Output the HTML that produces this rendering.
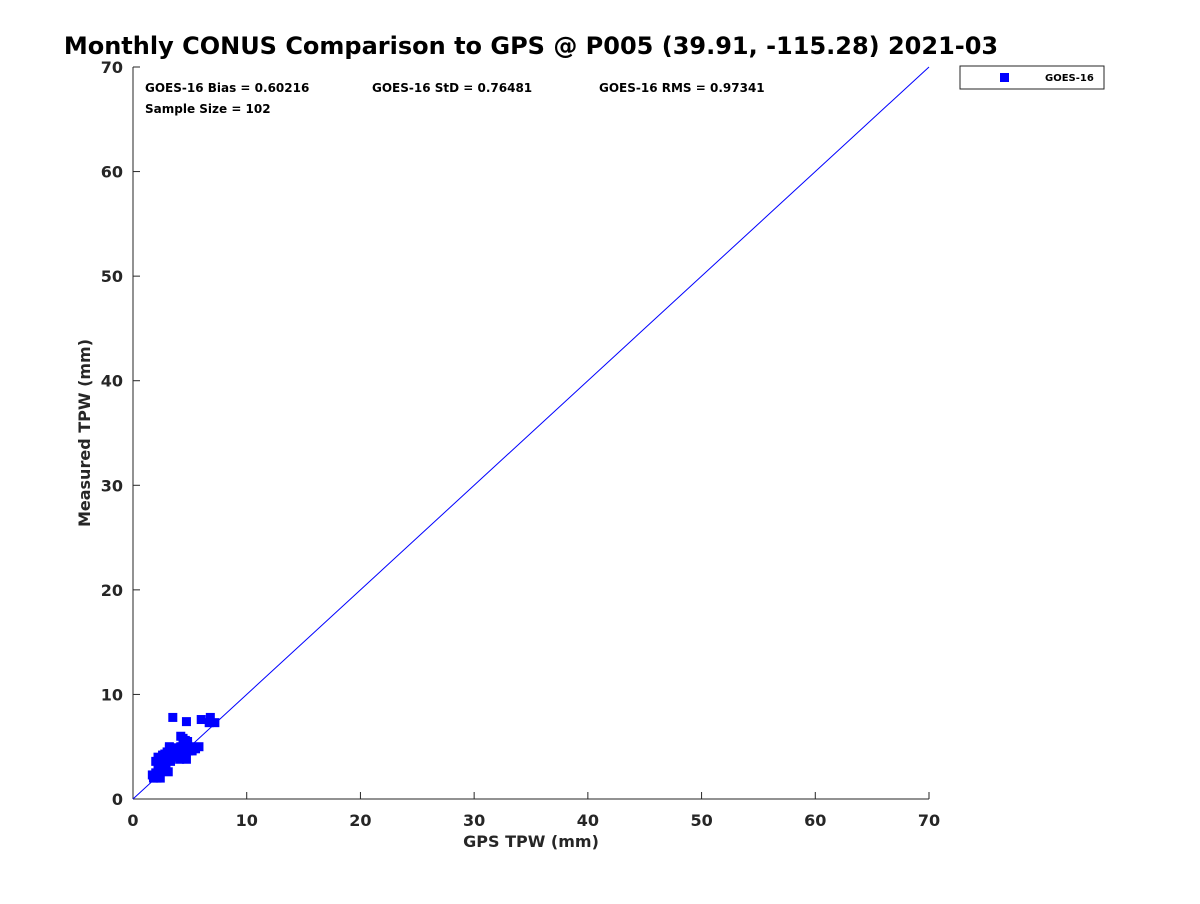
<!DOCTYPE html>
<html><head><meta charset="utf-8"><style>
body{margin:0;background:#fff;font-family:"DejaVu Sans","Liberation Sans",sans-serif;}
</style></head><body>
<svg width="1200" height="900" xmlns="http://www.w3.org/2000/svg" font-family="DejaVu Sans, Liberation Sans, sans-serif">
<rect width="1200" height="900" fill="#fff"/>
<text x="531" y="54" text-anchor="middle" font-size="24" font-weight="bold">Monthly CONUS Comparison to GPS @ P005 (39.91, -115.28) 2021-03</text>
<g id="axes"></g>
<g id="marks"></g>
<text x="145" y="92" font-size="12" font-weight="bold">GOES-16 Bias = 0.60216</text>
<text x="372" y="92" font-size="12" font-weight="bold">GOES-16 StD = 0.76481</text>
<text x="599" y="92" font-size="12" font-weight="bold">GOES-16 RMS = 0.97341</text>
<text x="145" y="113" font-size="12" font-weight="bold">Sample Size = 102</text>
<text x="531" y="847" text-anchor="middle" font-size="16" font-weight="bold" fill="#262626">GPS TPW (mm)</text>
<text transform="translate(90,433) rotate(-90)" text-anchor="middle" font-size="16" font-weight="bold" fill="#262626">Measured TPW (mm)</text>
<g>
<rect x="960" y="66" width="144" height="23" fill="#fff" stroke="#262626" stroke-width="1"/>
<rect x="1000" y="73" width="9" height="9" fill="#0000ff"/>
<text x="1045" y="81" font-size="10" font-weight="bold">GOES-16</text>
</g>
</svg>
<script>
const xTicks=[0,10,20,30,40,50,60,70];
const yTicks=[0,10,20,30,40,50,60,70];
const gpsX=[3.5,4.7,6.0,6.8,7.2,6.7,4.2,1.8,2.0,2.2,2.4,2.6,2.8,3.0,2.1,2.3,2.5,2.7,3.0,3.2,3.4,3.6,3.8,4.0,4.2,4.4,4.6,4.8,5.0,5.2,5.5,5.8,3.3,3.7,4.1,4.5,4.9,2.2,2.6,3.1,3.5,3.9,4.3,4.7,5.1,1.7,2.0,2.4,2.9,4.4,4.8,3.2];
const goesY=[7.8,7.4,7.6,7.8,7.3,7.3,6.0,2.0,2.5,3.0,3.5,4.0,4.3,3.8,2.0,2.2,2.8,3.2,4.5,4.8,4.6,4.0,4.2,4.6,5.0,5.4,5.6,5.5,5.0,4.6,4.8,5.0,3.6,4.8,3.8,4.2,4.6,4.0,4.2,2.6,4.9,4.4,4.0,3.8,4.9,2.3,3.6,2.0,3.0,5.8,5.2,5.0];
const X=v=>133+v*(796/70), Y=v=>799-v*(732/70);
const ns="http://www.w3.org/2000/svg";
const ax=document.getElementById('axes'), mk=document.getElementById('marks');
function el(t,a,p){const e=document.createElementNS(ns,t);for(const k in a)e.setAttribute(k,a[k]);p.appendChild(e);return e;}
const xa=el('line',{x1:X(0),y1:Y(0),x2:X(70),y2:Y(0),stroke:'#262626'},ax);


const ya=el('line',{x1:X(0),y1:Y(0),x2:X(0),y2:Y(70),stroke:'#262626'},ax);


xTicks.forEach(t=>{el('line',{x1:X(t),y1:Y(0),x2:X(t),y2:Y(0)-7,stroke:'#262626'},ax);
const tx=el('text',{x:X(t),y:826,'text-anchor':'middle','font-size':16,'font-weight':'bold',fill:'#262626'},ax);tx.textContent=t;

});
yTicks.forEach(t=>{el('line',{x1:X(0),y1:Y(t),x2:X(0)+7,y2:Y(t),stroke:'#262626'},ax);
const tx=el('text',{x:123,y:Y(t)+6,'text-anchor':'end','font-size':16,'font-weight':'bold',fill:'#262626'},ax);tx.textContent=t;

});
const d=el('line',{x1:X(0),y1:Y(0),x2:X(70),y2:Y(70),stroke:'#0000ff','stroke-width':1},mk);


gpsX.forEach((v,i)=>{const r=el('rect',{x:X(v)-4.5,y:Y(goesY[i])-4.5,width:9,height:9,fill:'#0000ff'},mk);

});
</script>
</body></html>
